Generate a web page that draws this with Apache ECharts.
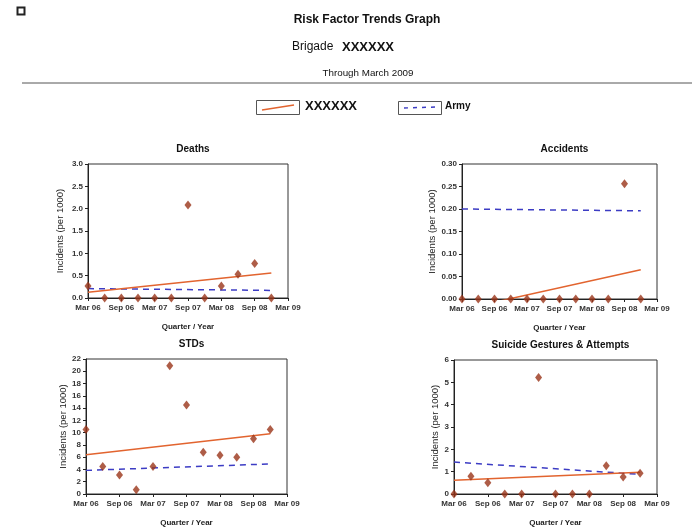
<!DOCTYPE html>
<html>
<head>
<meta charset="utf-8">
<script src="https://cdn.jsdelivr.net/npm/echarts@6/dist/echarts.min.js"></script>
<style>
html,body{margin:0;padding:0;background:#fff;}
#c{width:692px;height:529px;}
</style>
</head>
<body>
<div id="c"></div>
<script>
// quarters index 0..11 = Mar 06 .. Dec 08
const quarters = ['Mar 06','Jun 06','Sep 06','Dec 06','Mar 07','Jun 07','Sep 07','Dec 07','Mar 08','Jun 08','Sep 08','Dec 08'];
const tickLabels = ['Mar 06','Sep 06','Mar 07','Sep 07','Mar 08','Sep 08','Mar 09'];

const deaths    = [0.27,0,0,0,0,0,2.08,0,0.27,0.53,0.77,0];
const accidents = [0,0,0,0,0,0,0,0,0,0,0.256,0];
const stds      = [10.5,4.5,3.1,0.7,4.5,20.9,14.5,6.8,6.3,6.0,9.0,10.5];
const suicide   = [0,0.8,0.5,0,0,5.22,0,0,0,1.27,0.76,0.93];

// trend endpoints (first quarter, last quarter)
const deathsTrend    = [0.13,0.56];
const accidentsTrend = [-0.023,0.065];
const stdsTrend      = [6.4,9.8];
const suicideTrend   = [0.62,0.97];

const deathsArmy    = [0.21,0.17];
const accidentsArmy = [0.2,0.196];
const stdsArmy      = [3.85,4.9];
const suicideArmy   = [1.43,0.88];

const panelTitles = ['Deaths','Accidents','STDs','Suicide Gestures & Attempts'];
const yMax = [3, 0.3, 22, 6];
const yInterval = [0.5, 0.05, 2, 1];
const yDecimals = [1, 2, 0, 0];
const values = [deaths, accidents, stds, suicide];
const trends = [deathsTrend, accidentsTrend, stdsTrend, suicideTrend];
const armies = [deathsArmy, accidentsArmy, stdsArmy, suicideArmy];

const FONT = '"Liberation Sans", Arial, sans-serif';
const grids = [
  {left:88, top:164, width:200, height:134},
  {left:462, top:164, width:195, height:135},
  {left:86, top:359, width:201, height:135},
  {left:454, top:360, width:203, height:134}
];
const yNameGap = [23, 25, 18, 12];
const RED = '#e2642f', BLUE = '#3c3cc4', DOT = '#9a3519';

const option = {
  animation:false,
  backgroundColor:'#fff',
  textStyle:{fontFamily:FONT},
  title: [
    {text:'Risk Factor Trends Graph', left:362, top:9, textAlign:'center',
     textStyle:{fontSize:12, fontWeight:'bold', color:'#111', fontFamily:FONT}},
    {text:'Through March 2009', left:363, top:63, textAlign:'center',
     textStyle:{fontSize:9.8, fontWeight:'normal', color:'#111', fontFamily:FONT}}
  ].concat(grids.map((g,i)=>({
    text: panelTitles[i], left: g.left + g.width/2, top: g.top - 25, textAlign:'center',
    textStyle:{fontSize:10, fontWeight:'bold', color:'#111', fontFamily:FONT}
  }))),
  graphic: [
    {type:'rect', shape:{x:17.5,y:7.5,width:7,height:7}, style:{fill:'#fff', stroke:'#222', lineWidth:2}},
    {type:'text', left:292, top:41, style:{text:'Brigade', fontSize:12, fill:'#111', fontFamily:FONT}},
    {type:'text', left:342, top:41, style:{text:'XXXXXX', fontSize:13, fontWeight:'bold', fill:'#111', fontFamily:FONT}},
    {type:'line', shape:{x1:22,y1:83,x2:692,y2:83}, style:{stroke:'#555', lineWidth:1}},
    {type:'rect', shape:{x:256.5,y:100.5,width:43,height:14}, style:{fill:'#fff', stroke:'#555', lineWidth:1}},
    {type:'line', shape:{x1:262,y1:110,x2:294,y2:105}, style:{stroke:RED, lineWidth:1.5}},
    {type:'text', left:305, top:100, style:{text:'XXXXXX', fontSize:13, fontWeight:'bold', fill:'#111', fontFamily:FONT}},
    {type:'rect', shape:{x:398.5,y:101.5,width:43,height:13}, style:{fill:'#fff', stroke:'#555', lineWidth:1}},
    {type:'line', shape:{x1:404,y1:108,x2:436,y2:107}, style:{stroke:BLUE, lineWidth:1.5, lineDash:[4,5]}},
    {type:'text', left:445, top:101, style:{text:'Army', fontSize:10, fontWeight:'bold', fill:'#111', fontFamily:FONT}}
  ],
  grid: grids.map(g=>Object.assign({show:true, borderColor:'#333', borderWidth:1, backgroundColor:'transparent'}, g)),
  xAxis: grids.map((g,i)=>({
    type:'value', gridIndex:i, min:0, max:12, interval:2,
    name:'Quarter / Year', nameLocation:'middle', nameGap:25,
    nameTextStyle:{fontSize:8, fontWeight:'bold', color:'#222', fontFamily:FONT},
    axisLine:{show:true, lineStyle:{color:'#222', width:1}},
    axisTick:{show:true, length:3, lineStyle:{color:'#222'}},
    axisLabel:{fontSize:8, fontWeight:'bold', color:'#333', margin:6, fontFamily:FONT,
      formatter:(v)=>tickLabels[Math.round(v/2)]},
    splitLine:{show:false}
  })),
  yAxis: grids.map((g,i)=>({
    type:'value', gridIndex:i, min:0, max:yMax[i], interval:yInterval[i],
    name:'Incidents (per 1000)', nameLocation:'middle', nameGap:yNameGap[i],
    nameTextStyle:{fontSize:9.5, color:'#222', fontFamily:FONT},
    axisLine:{show:true, lineStyle:{color:'#222', width:1}},
    axisTick:{show:true, length:3, lineStyle:{color:'#222'}},
    axisLabel:{fontSize:8, fontWeight:'bold', color:'#333', margin:5, fontFamily:FONT,
      formatter:(v)=>v.toFixed(yDecimals[i])},
    splitLine:{show:false}
  })),
  series: []
};

for (let i=0;i<4;i++){
  const last = quarters.length-1;
  option.series.push({
    type:'line', xAxisIndex:i, yAxisIndex:i, clip:true, symbol:'none',
    lineStyle:{color:BLUE, width:1.5, type:[6,5]},
    data:[[0, armies[i][0]],[last, armies[i][1]]], z:2
  });
  option.series.push({
    type:'line', xAxisIndex:i, yAxisIndex:i, clip:true, symbol:'none',
    lineStyle:{color:RED, width:1.5},
    data:[[0, trends[i][0]],[last, trends[i][1]]], z:3
  });
  option.series.push({
    type:'scatter', xAxisIndex:i, yAxisIndex:i, clip:false,
    symbol:'diamond', symbolSize:[7,9],
    itemStyle:{color:DOT},
    data: values[i].map((v,k)=>[k, v]), z:4
  });
}

const chart = echarts.init(document.getElementById('c'), null, {renderer:'canvas'});
chart.setOption(option);
</script>
</body>
</html>
